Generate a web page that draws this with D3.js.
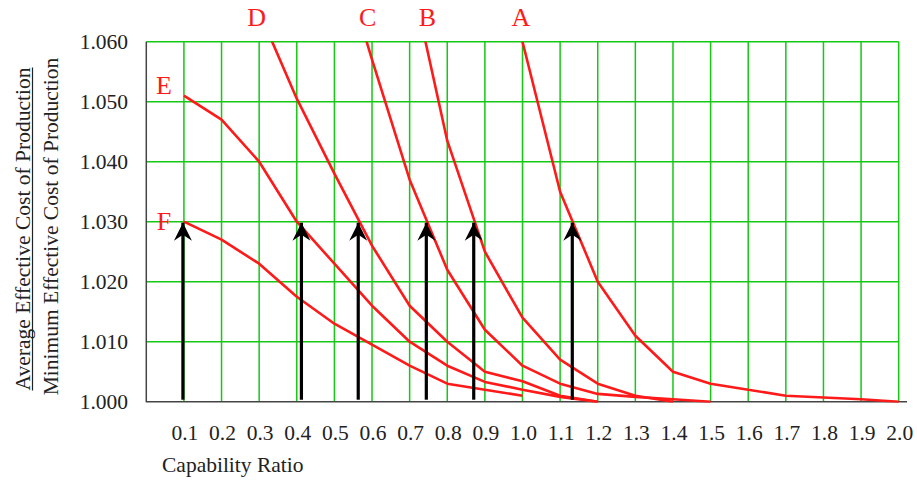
<!DOCTYPE html>
<html><head><meta charset="utf-8">
<script src="https://cdn.jsdelivr.net/npm/d3@7"></script>
<style>
html,body{margin:0;padding:0;background:#fff;}
svg text{font-family:"Liberation Serif","Times New Roman",serif;}
</style></head>
<body>
<svg id="chart" width="917" height="480"></svg>
<script>
// ---- data ----
const seriesNames = ["A", "B", "C", "D", "E", "F"];
const xA = [1.0, 1.1, 1.2, 1.3, 1.4, 1.5, 1.6, 1.7, 1.8, 1.9, 2.0];
const yA = [1.060, 1.035, 1.020, 1.011, 1.005, 1.003, 1.002, 1.001, 1.0007, 1.0004, 1.000];
const xB = [0.7, 0.8, 0.9, 1.0, 1.1, 1.2, 1.3, 1.4];
const yB = [1.072, 1.0435, 1.025, 1.014, 1.007, 1.003, 1.001, 1.000];
const xC = [0.5, 0.6, 0.7, 0.8, 0.9, 1.0, 1.1, 1.2, 1.3, 1.4, 1.5];
const yC = [1.078, 1.057, 1.037, 1.022, 1.012, 1.006, 1.003, 1.0013, 1.0008, 1.0004, 1.000];
const xD = [0.3, 0.4, 0.5, 0.6, 0.7, 0.8, 0.9, 1.0, 1.1, 1.2];
const yD = [1.065, 1.0505, 1.038, 1.026, 1.016, 1.010, 1.005, 1.0034, 1.001, 1.000];
const xE = [0.1, 0.2, 0.3, 0.4, 0.5, 0.6, 0.7, 0.8, 0.9, 1.0, 1.1, 1.2];
const yE = [1.051, 1.047, 1.040, 1.030, 1.023, 1.016, 1.010, 1.006, 1.0033, 1.002, 1.0008, 1.000];
const xF = [0.1, 0.2, 0.3, 0.4, 0.5, 0.6, 0.7, 0.8, 0.9, 1.0];
const yF = [1.030, 1.027, 1.023, 1.0175, 1.013, 1.0095, 1.006, 1.003, 1.002, 1.001];
// arrows: x positions where each curve reaches the 1.030 level
const arrowX = [0.1, 0.415, 0.566, 0.747, 0.873, 1.135];
const arrowTop = 1.030;
const xTicks = [0.1,0.2,0.3,0.4,0.5,0.6,0.7,0.8,0.9,1.0,1.1,1.2,1.3,1.4,1.5,1.6,1.7,1.8,1.9,2.0];
const yTicks = [1.000, 1.010, 1.020, 1.030, 1.040, 1.050, 1.060];
const xTitle = "Capability Ratio";
const yTitleTop = "Average Effective Cost of Production";
const yTitleBottom = "Minimum Effective Cost of Production";
// label anchors (data units)
const topLabelX = [0.996, 0.7475, 0.5885, 0.2935]; // A,B,C,D
const sideLabelY = [1.0513, 1.0287]; // E,F baselines

const series = [
  {name:"A", x:xA, y:yA}, {name:"B", x:xB, y:yB}, {name:"C", x:xC, y:yC},
  {name:"D", x:xD, y:yD}, {name:"E", x:xE, y:yE}, {name:"F", x:xF, y:yF}
];

// ---- layout ----
const svg = d3.select("#chart");
const x = d3.scaleLinear().domain([0, 2]).range([146.3, 898.7]);
const y = d3.scaleLinear().domain([1.0, 1.06]).range([401.7, 41.7]);
const green = "#14c814", red = "#ff1a1a";

// grid
const grid = svg.append("g");
grid.selectAll("line.v").data(xTicks).join("line")
  .attr("x1", d => x(d)).attr("x2", d => x(d))
  .attr("y1", y(1.06)).attr("y2", y(1.0))
  .attr("stroke", green).attr("stroke-width", 1.5);
grid.selectAll("line.h").data(yTicks.filter(d => d > 1.0)).join("line")
  .attr("x1", x(0)).attr("x2", x(2))
  .attr("y1", d => y(d)).attr("y2", d => y(d))
  .attr("stroke", green).attr("stroke-width", 1.5);

// axes lines
svg.append("line").attr("x1", x(0)).attr("x2", x(0)).attr("y1", y(1.06)).attr("y2", y(1.0) + 0.5)
  .attr("stroke", "#444").attr("stroke-width", 1.5);
svg.append("line").attr("x1", x(0)).attr("x2", 907).attr("y1", y(1.0)).attr("y2", y(1.0))
  .attr("stroke", "#444").attr("stroke-width", 1.5);

// tick labels
svg.append("g").selectAll("text").data(yTicks).join("text")
  .attr("x", 128).attr("y", d => y(d)).attr("dy", "0.36em")
  .attr("text-anchor", "end").attr("font-size", 21.5).attr("fill", "#222")
  .text(d => d3.format(".3f")(d));
svg.append("g").selectAll("text").data(xTicks).join("text")
  .attr("x", d => x(d) + 1).attr("y", 440)
  .attr("text-anchor", "middle").attr("font-size", 21.5).attr("fill", "#222")
  .text(d => d3.format(".1f")(d));
svg.append("text").attr("x", 162).attr("y", 472).attr("font-size", 21.5).attr("fill", "#222").text(xTitle);

// y titles (rotated)
const ty1 = svg.append("text").attr("transform", "translate(30,229) rotate(-90)")
  .attr("text-anchor", "middle").attr("font-size", 21.5).attr("fill", "#222").text(yTitleTop);
const w1 = ty1.node().getComputedTextLength();
svg.append("line").attr("x1", 32.5).attr("x2", 32.5).attr("y1", 229 - w1/2).attr("y2", 229 + w1/2)
  .attr("stroke", "#222").attr("stroke-width", 1.2);
svg.append("text").attr("transform", "translate(58,226.5) rotate(-90)")
  .attr("text-anchor", "middle").attr("font-size", 21.5).attr("fill", "#222").text(yTitleBottom);

// curves
svg.append("clipPath").attr("id", "plotclip").append("rect")
  .attr("x", x(0)).attr("y", y(1.06)).attr("width", x(2) - x(0) + 2).attr("height", y(1.0) - y(1.06) + 1);
const line = d3.line().x(d => x(d[0])).y(d => y(d[1]));
svg.append("g").attr("clip-path", "url(#plotclip)").selectAll("path").data(series).join("path")
  .attr("d", s => line(s.x.map((v, i) => [v, s.y[i]])))
  .attr("fill", "none").attr("stroke", red).attr("stroke-width", 2.6).attr("stroke-linejoin", "round");

// arrows
const defs = svg.append("defs");
defs.append("marker").attr("id", "ah").attr("viewBox", "-10 -1 20 21")
  .attr("refX", 0).attr("refY", 0).attr("markerWidth", 20).attr("markerHeight", 21)
  .attr("markerUnits", "userSpaceOnUse").attr("orient", "0")
  .append("path").attr("d", "M0,0 L9,18 L0,12 L-9,18 Z").attr("fill", "#000");
svg.append("g").selectAll("line").data(arrowX).join("line")
  .attr("x1", d => x(d) - 1).attr("x2", d => x(d) - 1)
  .attr("y1", y(1.0) - 2).attr("y2", y(arrowTop) + 1)
  .attr("stroke", "#000").attr("stroke-width", 3.2)
  .attr("marker-end", "url(#ah)");

// curve labels
svg.append("g").selectAll("text").data(topLabelX).join("text")
  .attr("x", d => x(d)).attr("y", 26).attr("text-anchor", "middle")
  .attr("font-size", 26).attr("fill", red).text((d, i) => seriesNames[i]);
svg.append("g").selectAll("text").data(sideLabelY).join("text")
  .attr("x", 164).attr("y", d => y(d)).attr("text-anchor", "middle")
  .attr("font-size", 26).attr("fill", red).text((d, i) => seriesNames[4 + i]);
</script>
</body></html>
